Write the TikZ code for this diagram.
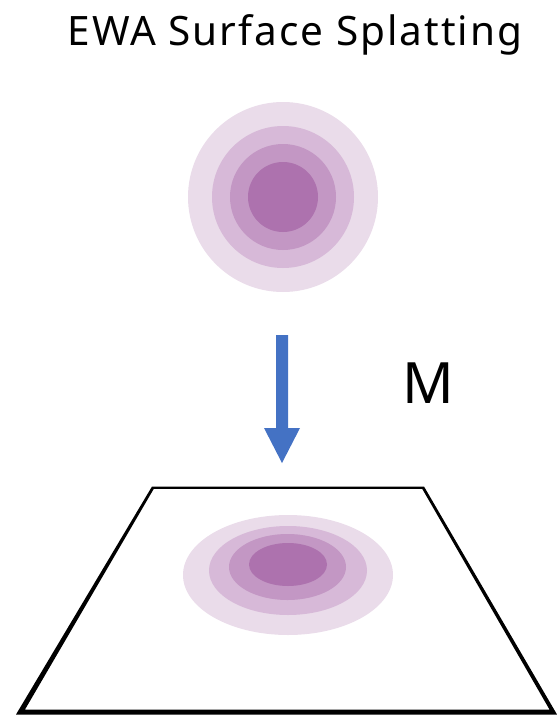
\documentclass[tikz,border=0pt]{standalone}
\usepackage{fontspec}
\setmainfont{Noto Sans}
\newfontfamily\titlefont[LetterSpace=5]{Noto Sans}
\definecolor{ringA}{HTML}{EADCEA}
\definecolor{ringB}{HTML}{D7B9D8}
\definecolor{ringC}{HTML}{C397C4}
\definecolor{ringD}{HTML}{AD72AE}
\definecolor{arrowblue}{HTML}{4472C4}
\begin{document}
\begin{tikzpicture}[x=1pt,y=-1pt,
  lbl/.style={inner sep=0pt, anchor=base, text=black},
  ring/.style={draw=none}]
\useasboundingbox (0,0) rectangle (557,715);
% title
\node[lbl, font=\titlefont\fontsize{40.5}{48}\selectfont] (title) at (295,45) {EWA Surface Splatting};
% top splat (circles)
\coordinate (splat) at (283,197);
\fill[ringA] (splat) circle (95);
\fill[ringB] (splat) circle (71);
\fill[ringC] (splat) circle (53);
\fill[ringD] (splat) circle (35);
% arrow
\coordinate (arrS) at (282,335);
\coordinate (arrT) at (282,463);
\fill[arrowblue] (276,335) -- (288,335) -- (288,428) -- (300,428) -- (arrT) -- (264,428) -- (276,428) -- cycle;
% label M
\node[lbl, font=\fontsize{57}{64}\selectfont] (M) at (428.5,403) {M};
% plane (trapezoid with perspective-thick edges)
\fill[black, even odd rule]
  (152,486.5) -- (424,486.5) -- (557,714.5) -- (16,714.5) -- cycle
  (153.8,488.8) -- (422.2,488.8) -- (549.5,709.5) -- (25,709.5) -- cycle;
% projected splat (ellipses)
\fill[ringA] (288,575) ellipse [x radius=105, y radius=60];
\fill[ringB] (288,570.5) ellipse [x radius=79, y radius=44.5];
\fill[ringC] (287.5,567) ellipse [x radius=58.5, y radius=33];
\fill[ringD] (288,564.5) ellipse [x radius=39, y radius=21.5];
\end{tikzpicture}
\end{document}
